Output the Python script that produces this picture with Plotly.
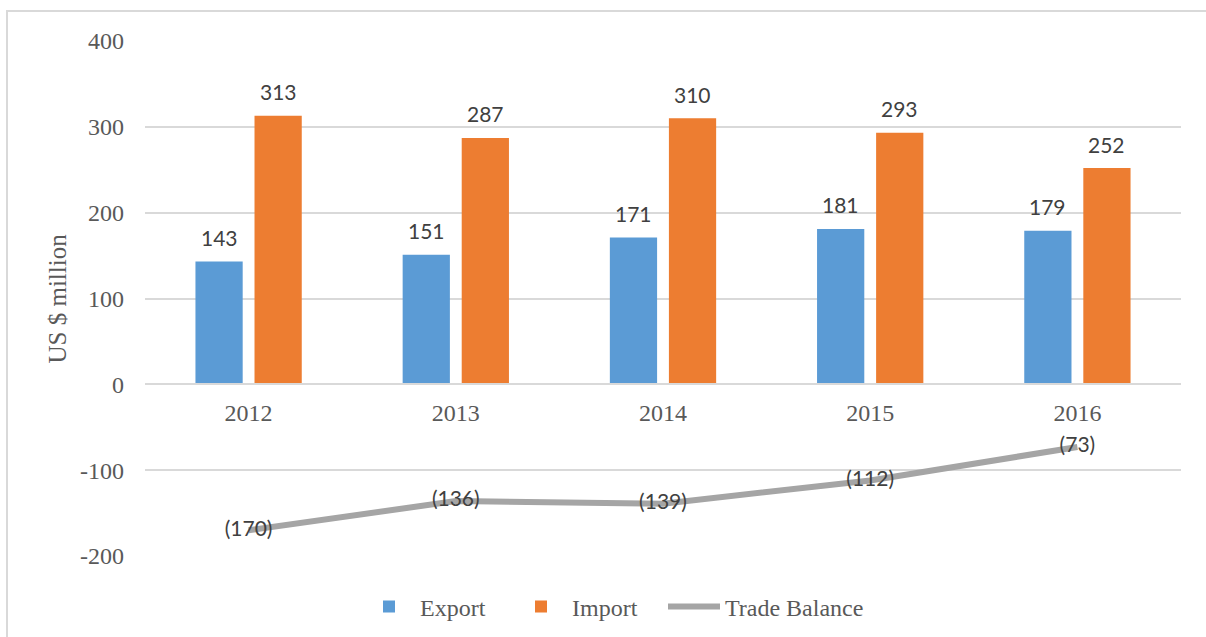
import plotly.graph_objects as go

years = ["2012", "2013", "2014", "2015", "2016"]
export_vals = [143, 151, 171, 181, 179]
import_vals = [313, 287, 310, 293, 252]
balance_vals = [-170, -136, -139, -112, -73]
balance_labels = ["(170)", "(136)", "(139)", "(112)", "(73)"]
y_ticks = [-200, -100, 0, 100, 200, 300, 400]

C_EXP = "#5B9BD5"
C_IMP = "#ED7D31"
C_BAL = "#A5A5A5"
LABEL_FONT = dict(family="Lato, Noto Sans, sans-serif", size=21, color="#404040")
SERIF = "Liberation Serif, Times New Roman, serif"

fig = go.Figure()
fig.add_trace(go.Bar(
    x=years, y=export_vals, name="Export", legend="legend",
    marker=dict(color=C_EXP, line=dict(width=0)),
))
fig.add_trace(go.Bar(
    x=years, y=import_vals, name="Import", legend="legend2",
    marker=dict(color=C_IMP, line=dict(width=0)),
))
fig.add_trace(go.Scatter(
    x=years, y=balance_vals, name="Trade Balance", mode="lines+text", legend="legend3",
    line=dict(color=C_BAL, width=6), text=balance_labels,
    textposition="middle center", textfont=LABEL_FONT, cliponaxis=False,
))

annotations = []
# category axis: annotation x given as category index
for i, v in enumerate(export_vals):
    annotations.append(dict(x=i, y=v, text=str(v), xref="x", yref="y", showarrow=False,
                            xshift=-29.5, yshift=24, xanchor="center", yanchor="middle",
                            font=LABEL_FONT))
for i, v in enumerate(import_vals):
    annotations.append(dict(x=i, y=v, text=str(v), xref="x", yref="y", showarrow=False,
                            xshift=29.5, yshift=24, xanchor="center", yanchor="middle",
                            font=LABEL_FONT))
annotations.append(dict(
    text="US $ million", xref="paper", yref="paper",
    x=(57 - 145) / 1036, y=0.5, xanchor="center", yanchor="middle",
    textangle=-90, showarrow=False,
    font=dict(family=SERIF, size=25, color="#595959"),
))


def legend_at(px):
    return dict(
        orientation="h", xref="paper", yref="paper",
        x=(px - 145) / 1036, xanchor="left",
        y=(556 - 607) / 515, yanchor="middle",
        font=dict(family=SERIF, size=24, color="#595959"),
        itemwidth=52, bgcolor="rgba(0,0,0,0)",
    )


fig.update_layout(
    width=1206, height=637,
    margin=dict(l=145, r=25, t=41, b=81, autoexpand=False),
    paper_bgcolor="white", plot_bgcolor="white",
    barmode="group", bargap=0.43, bargroupgap=0.2,
    font=dict(family=SERIF, color="#595959"),
    showlegend=True,
    legend=legend_at(358),
    legend2=legend_at(510),
    legend3=legend_at(663),
    xaxis=dict(
        type="category", anchor="free", position=1/3, automargin=False,
        range=[-0.5, len(years) - 0.5], autorange=False,
        showline=True, linecolor="#D9D9D9", linewidth=1.5,
        showgrid=False, ticks="", ticklabelstandoff=7,
        tickfont=dict(family=SERIF, size=24, color="#595959"),
    ),
    yaxis=dict(
        range=[-200, 400], autorange=False, automargin=False,
        tickvals=y_ticks, ticktext=[str(v) for v in y_ticks],
        showgrid=True, gridcolor="#D9D9D9", gridwidth=1.5, zeroline=False,
        showline=False, ticks="", ticklabelstandoff=20,
        tickfont=dict(family=SERIF, size=24, color="#595959"),
    ),
    annotations=annotations,
    shapes=[dict(
        type="rect", xref="paper", yref="paper",
        x0=(7 - 145) / 1036, x1=(1215 - 145) / 1036,
        y0=(556 - 645) / 515, y1=(556 - 11) / 515,
        line=dict(color="#D9D9D9", width=2), fillcolor="rgba(0,0,0,0)",
        layer="below",
    )],
)

fig.write_html("out.html", config={"displayModeBar": False},
               post_script="document.body.style.margin='0';")
